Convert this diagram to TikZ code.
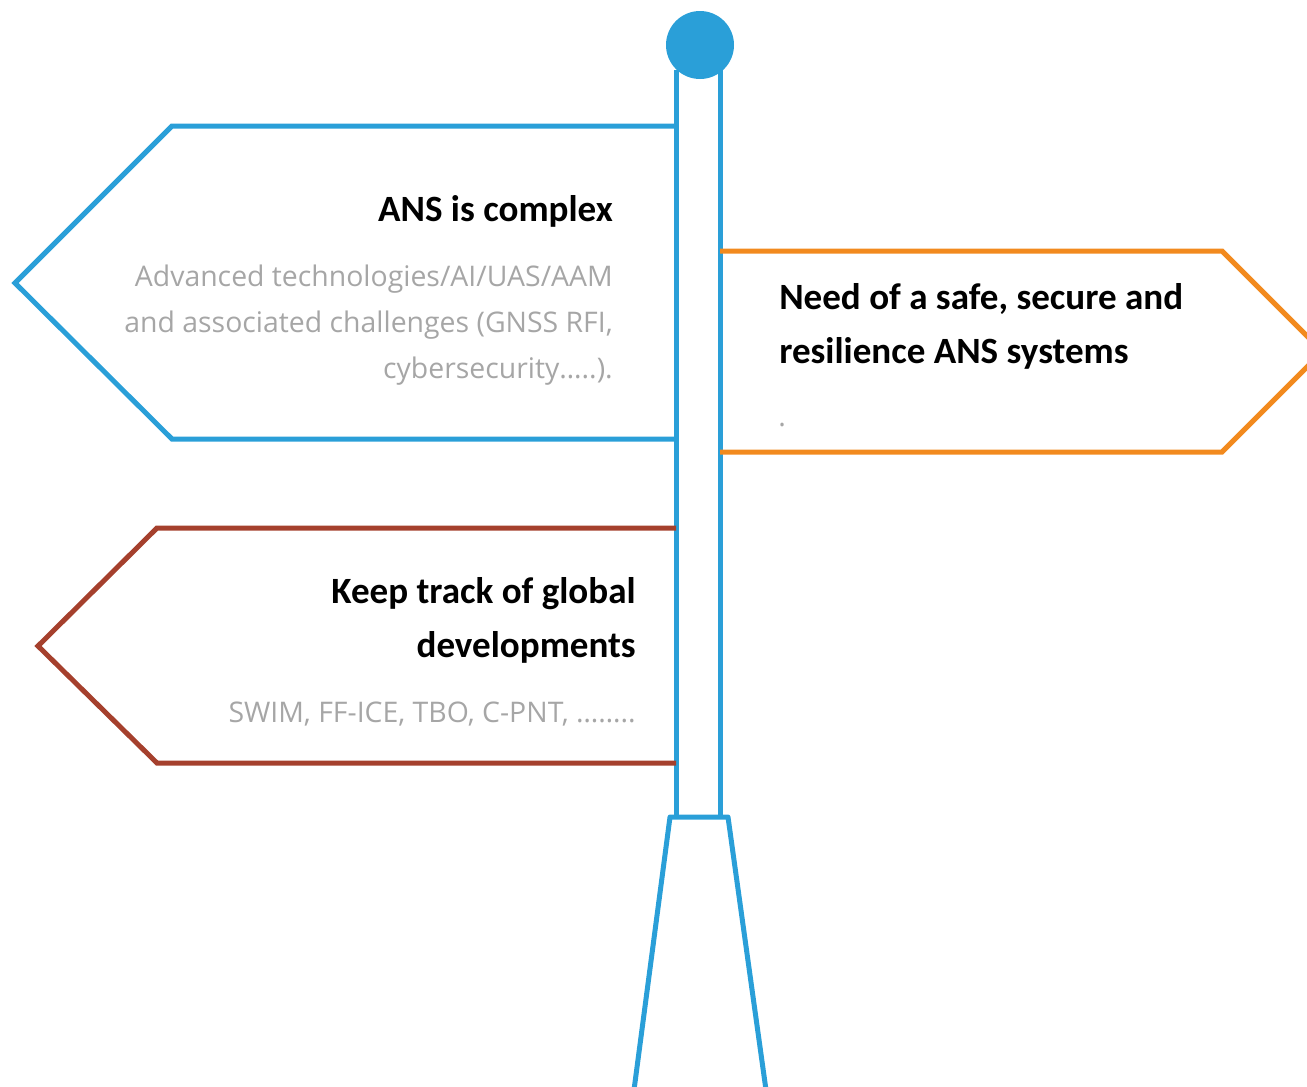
\documentclass[tikz,border=0pt]{standalone}
\usepackage{fontspec}
\setmainfont{Carlito}
\newfontfamily\greyfont{Open Sans}
\usepackage{tikz}
\usetikzlibrary{calc}

\definecolor{poleblue}{HTML}{2A9FD8}
\definecolor{signorange}{HTML}{F28A1E}
\definecolor{signred}{HTML}{A5402D}
\definecolor{notegray}{HTML}{A6A6A6}

\begin{document}
\begin{tikzpicture}[
    x=0.75pt, y=-0.75pt,
    pole/.style={draw=poleblue, line width=3.75pt, line join=round},
    sign/.style={line width=3.75pt, line join=miter},
    title/.style={font=\fontsize{27.8}{38}\selectfont\bfseries, inner sep=0pt},
    note/.style={font=\greyfont\fontsize{21.3}{30}\selectfont, text=notegray, inner sep=0pt}
]
    \useasboundingbox (0,0) rectangle (1307,1086);
    \clip (0,0) rectangle (1307,1086);

    % the pole and its foot
    \coordinate (pole_top_l) at (676,70);
    \coordinate (pole_top_r) at (720,70);
    \coordinate (foot_l) at (670,817);
    \coordinate (foot_r) at (728,817);
    \draw[pole] (pole_top_l) -- (pole_top_l |- foot_l);
    \draw[pole] (pole_top_r) -- (pole_top_r |- foot_r);
    \draw[pole] (634,1090) -- (foot_l) -- (foot_r) -- (766,1090);
    \fill[poleblue] (700,45) circle (34);

    % signs
    \draw[sign, draw=poleblue] (676,126) -- (172,126) -- (15,283) -- (172,439) -- (676,439);
    \draw[sign, draw=signorange] (720,251) -- (1222,251) -- (1322.5,351.5) -- (1222,452) -- (720,452);
    \draw[sign, draw=signred] (676,528) -- (157,528) -- (38,646) -- (157,763) -- (676,763);

    % texts on the blue sign
    \node[title, anchor=base east] (complex) at (613,221) {ANS is complex};
    \node[note, anchor=base east] (complex_a) at (613,286) {Advanced technologies/AI/UAS/AAM};
    \node[note, anchor=base east] (complex_b) at (613,332) {and associated challenges (GNSS RFI,};
    \node[note, anchor=base east] (complex_c) at (613,378) {cybersecurity…..).};

    % texts on the orange sign
    \node[title, anchor=base west] (safe_a) at (779,309) {Need of a safe, secure and};
    \node[title, anchor=base west] (safe_b) at (779,363) {resilience ANS systems};
    \node[note, anchor=base west] (safe_c) at (778,426) {.};

    % texts on the red sign
    \node[title, anchor=base east] (track_a) at (636,603) {Keep track of global};
    \node[title, anchor=base east] (track_b) at (636,657) {developments};
    \node[note, anchor=base east] (track_c) at (636,722) {SWIM, FF-ICE, TBO, C-PNT, ……..};
\end{tikzpicture}
\end{document}
